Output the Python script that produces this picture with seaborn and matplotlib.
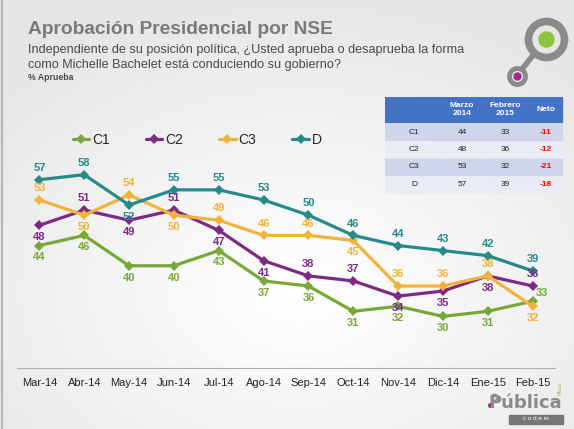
import numpy as np
import pandas as pd
import matplotlib
matplotlib.use("Agg")
import matplotlib.pyplot as plt
import seaborn as sns
from matplotlib.patches import Circle, Rectangle

# ------------------------------------------------------------------
# data
# ------------------------------------------------------------------
months = ["Mar-14", "Abr-14", "May-14", "Jun-14", "Jul-14", "Ago-14",
          "Sep-14", "Oct-14", "Nov-14", "Dic-14", "Ene-15", "Feb-15"]
groups = ["C1", "C2", "C3", "D"]
c1 = [44, 46, 40, 40, 43, 37, 36, 31, 32, 30, 31, 33]
c2 = [48, 51, 49, 51, 47, 41, 38, 37, 34, 35, 38, 36]
c3 = [53, 50, 54, 50, 49, 46, 46, 45, 36, 36, 38, 32]
d = [57, 58, 52, 55, 55, 53, 50, 46, 44, 43, 42, 39]
series = {"C1": c1, "C2": c2, "C3": c3, "D": d}

# where each value label sits: a = above, b = below, r = up-right
label_side = {
    "C1": ["b"] * 11 + ["r"],
    "C2": ["b", "a", "b", "a", "b", "b", "a", "a", "b", "b", "b", "a"],
    "C3": ["a", "b", "a", "b", "a", "a", "a", "b", "a", "a", "a", "b"],
    "D": ["a", "a", "b", "a", "a", "a", "a", "a", "a", "a", "a", "a"],
}
colors = {"C1": "#78a83a", "C2": "#7d2a85", "C3": "#f2b33d", "D": "#268a8a"}

rows = []
for g in groups:
    for m, v in zip(months, series[g]):
        rows.append({"mes": m, "valor": v, "grupo": g})
df = pd.DataFrame(rows)

# ------------------------------------------------------------------
# figure
# ------------------------------------------------------------------
sns.set_style("white")
plt.rcParams["font.family"] = ["Liberation Sans", "DejaVu Sans"]

fig = plt.figure(figsize=(5.74, 4.29), dpi=100)

# soft grey/white background
bg = fig.add_axes([0, 0, 1, 1], zorder=-5)
yy, xx = np.mgrid[0:429, 0:574]
r = np.sqrt(((xx - 300) / 420) ** 2 + ((yy - 290) / 300) ** 2)
shade = 1.0 - 0.10 * np.clip(r, 0, 1)
bg.imshow(shade, cmap="gray", vmin=0, vmax=1, aspect="auto")
bg.axvline(1, color="#b5b5b5", lw=1.5)
bg.set_axis_off()

ax = fig.add_axes([17 / 574, 1 - 368 / 429, 538 / 574, 248 / 429])
ax.set_facecolor("none")

sns.lineplot(data=df, x="mes", y="valor", hue="grupo", style="grupo",
             palette=colors, markers={g: "D" for g in groups}, dashes=False,
             linewidth=2.3, markersize=5, markeredgewidth=0, sort=False, ax=ax)

for g in groups:
    for i, v in enumerate(series[g]):
        side = label_side[g][i]
        off = {"a": (0, 8.5), "b": (0, -8.5), "r": (7, 6)}[side]
        ax.annotate(str(v), (months[i], v), xytext=off, textcoords="offset points",
                    ha="center", va="center", fontsize=8, fontweight="bold",
                    color=colors[g])

ax.set_xlim(-0.5, len(months) - 0.5)
ax.set_ylim(19.8, 68.8)
ax.set_xlabel("")
ax.set_ylabel("")
ax.set_yticks([])
ax.set_xticks(np.arange(len(months)))
ax.set_xticklabels(months, fontsize=8, color="#222222")
ax.set_xticks(np.arange(len(months) + 1) - 0.5, minor=True)
ax.tick_params(axis="x", which="major", length=0, pad=7)
ax.tick_params(axis="x", which="minor", length=3, color="#b0b0b0", width=0.8)
for s in ["top", "left", "right"]:
    ax.spines[s].set_visible(False)
ax.spines["bottom"].set_color("#b0b0b0")
ax.spines["bottom"].set_linewidth(0.8)

handles, labels = ax.get_legend_handles_labels()
ax.legend(handles, labels, loc="upper left", bbox_to_anchor=(0.08, 1.0), ncol=4,
          frameon=False, fontsize=10, handlelength=1.2, handletextpad=0.2,
          columnspacing=2.6)

# ------------------------------------------------------------------
# titles
# ------------------------------------------------------------------
fig.text(28 / 574, 1 - 30 / 429, "Aprobación Presidencial por NSE", fontsize=13.8,
         fontweight="bold", color="#7a7a7a", va="center")
fig.text(28 / 574, 1 - 50 / 429,
         "Independiente de su posición política, ¿Usted aprueba o desaprueba la forma",
         fontsize=9.1, color="#4a4a4a", va="center")
fig.text(28 / 574, 1 - 65 / 429, "como Michelle Bachelet está conduciendo su gobierno?",
         fontsize=9.1, color="#4a4a4a", va="center")
fig.text(28 / 574, 1 - 78 / 429, "% Aprueba", fontsize=6.3, fontweight="bold",
         color="#4a4a4a", va="center")

# ------------------------------------------------------------------
# summary table
# ------------------------------------------------------------------
tab = fig.add_axes([385 / 574, 1 - 194 / 429, 180 / 574, 97 / 429])
tab.set_xlim(385, 565)
tab.set_ylim(194, 97)
tab.set_axis_off()
col_edges = [385, 443, 481, 529, 563]
head = ["", "Marzo\n2014", "Febrero\n2015", "Neto"]
for j in range(4):
    tab.add_patch(Rectangle((col_edges[j], 97), col_edges[j + 1] - col_edges[j] - 1, 25,
                            color="#4472c4"))
    tab.text((col_edges[j] + col_edges[j + 1]) / 2, 109.5, head[j], ha="center",
             va="center", fontsize=6, fontweight="bold", color="white",
             linespacing=1.1)
for i, g in enumerate(groups):
    y0 = 124 + i * 17.5
    first, last = series[g][0], series[g][-1]
    cells = [g, str(first), str(last), str(last - first)]
    fill = "#cfd5ea" if i % 2 == 0 else "#e9ebf5"
    for j in range(4):
        tab.add_patch(Rectangle((col_edges[j], y0), col_edges[j + 1] - col_edges[j] - 1,
                                16, color=fill))
        tab.text((col_edges[j] + col_edges[j + 1]) / 2, y0 + 8, cells[j], ha="center",
                 va="center", fontsize=6,
                 fontweight="bold" if j == 3 else "normal",
                 color="#ff0000" if j == 3 else "#222222")

# ------------------------------------------------------------------
# logos
# ------------------------------------------------------------------
bg.add_patch(Circle((546, 39), 18, fill=False, ec="#8a8a8a", lw=5.5))
bg.add_patch(Circle((546, 39), 7.5, color="#8cc43f"))
bg.plot([534, 522], [53, 68], color="#8a8a8a", lw=4, solid_capstyle="round")
bg.add_patch(Circle((517, 76), 8, fill=False, ec="#8a8a8a", lw=3.5))
bg.add_patch(Circle((517, 76), 3.5, color="#a0288f"))

bg.add_patch(Rectangle((508, 414), 54, 9, color="#777777"))
bg.text(535, 418.5, "c o d e m", ha="center", va="center", fontsize=4.5, color="white")
bg.text(562, 403, "Pública", ha="right", va="center", fontsize=13, color="#8a8a8a",
        fontweight="bold", family="Liberation Sans Narrow")
bg.text(560, 388, "Plaza", ha="center", va="center", fontsize=4, color="#8cc43f",
        rotation=90)
bg.add_patch(Circle((494, 397), 3, fill=False, ec="#8a8a8a", lw=1.3))
bg.add_patch(Circle((490, 405), 1.8, color="#a0288f"))

fig.savefig("out.png", dpi=100)
